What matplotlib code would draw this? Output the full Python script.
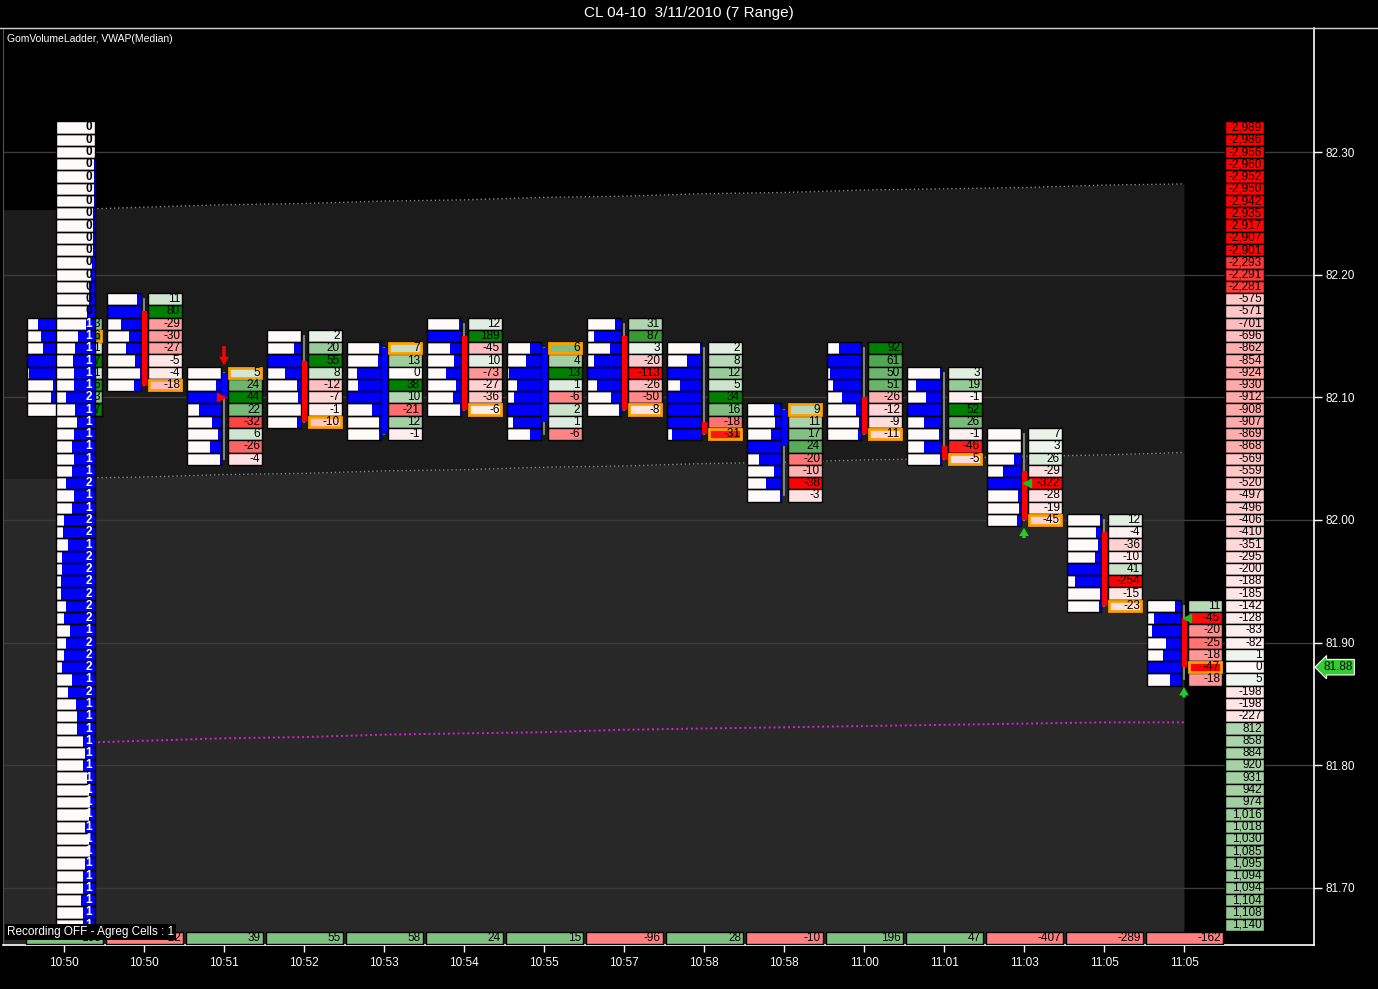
import numpy as np
import matplotlib.pyplot as plt
from matplotlib.patches import Rectangle
from matplotlib.lines import Line2D

plt.rcParams['font.family'] = ['Liberation Sans', 'DejaVu Sans']

# ---- data ----
times = ['10:50', '10:50', '10:51', '10:52', '10:53', '10:54', '10:55', '10:57',
         '10:58', '10:58', '11:00', '11:01', '11:03', '11:05', '11:05']

# top price of each bar's ladder, rows go down one tick (0.01) each
bar_top = [82.16, 82.18, 82.12, 82.15, 82.14, 82.16, 82.14, 82.16,
           82.14, 82.09, 82.14, 82.12, 82.07, 82.00, 81.93]

# first bar: only the last digit shows beside the session column
deltas = [
    [3, 6, 1, 7, 1, 6, 3, 7],
    [11, 80, -29, -30, -27, -5, -4, -18],
    [5, 24, 44, 22, -32, 6, -26, -4],
    [2, 20, 55, 8, -12, -7, -1, -10],
    [7, 13, 0, 38, 10, -21, 12, -1],
    [12, 189, -45, 10, -73, -27, -36, -6],
    [6, 4, 13, 1, -6, 2, 1, -6],
    [31, 87, 3, -20, -113, -26, -50, -8],
    [2, 8, 12, 5, 34, 16, -18, -31],
    [9, 11, 17, 24, -20, -10, -38, -3],
    [92, 61, 50, 51, -26, -12, -9, -11],
    [3, 19, -1, 52, 26, -1, -46, -5],
    [7, 3, 26, -29, -322, -28, -19, -45],
    [12, -4, -36, -10, 41, -254, -15, -23],
    [11, -45, -20, -25, -18, -47, -18],
]

# bar delta totals shown along the bottom
bar_totals = [163, -22, 39, 55, 58, 24, 15, -96, 28, -10, 196, 47, -407, -289, -162]

# share of the row volume (blue part of the ladder cell)
vol_share = [
    [0.69, 0.59, 0.54, 1.0, 0.93, 0.24, 0.30, 0.10],
    [0.12, 0.98, 0.58, 0.34, 0.44, 0.17, 0.03, 0.20],
    [0.0, 0.15, 1.0, 0.64, 0.26, 0.10, 0.32, 0.02],
    [0.0, 0.22, 1.0, 0.47, 0.12, 0.10, 0.0, 0.12],
    [0.05, 0.08, 0.71, 0.68, 1.0, 0.27, 0.06, 0.06],
    [0.06, 0.98, 0.32, 0.20, 0.44, 0.15, 0.24, 0.03],
    [0.32, 0.44, 0.95, 0.71, 0.79, 1.0, 0.83, 0.32],
    [0.17, 0.80, 0.33, 0.80, 1.0, 0.70, 0.30, 0.05],
    [0.03, 0.42, 1.0, 0.63, 1.0, 1.0, 1.0, 0.85],
    [0.20, 0.17, 0.29, 1.0, 0.66, 0.20, 0.44, 0.03],
    [0.64, 1.0, 0.90, 0.83, 0.56, 0.15, 0.07, 0.08],
    [0.03, 0.73, 0.44, 1.0, 0.49, 0.05, 0.49, 0.03],
    [0.0, 0.0, 0.20, 0.52, 1.0, 0.10, 0.05, 0.12],
    [0.03, 0.15, 0.08, 0.17, 1.0, 0.76, 0.03, 0.06],
    [0.17, 0.79, 0.85, 0.44, 0.54, 1.0, 0.32],
]

opens = [82.10, 82.17, 82.10, 82.13, 82.07, 82.15, 82.08, 82.15,
         82.08, 82.06, 82.10, 82.06, 82.04, 81.99, 81.92]
highs = [82.16, 82.18, 82.12, 82.15, 82.14, 82.16, 82.14, 82.16,
         82.14, 82.09, 82.14, 82.12, 82.07, 82.00, 81.93]
lows = [82.09, 82.11, 82.05, 82.08, 82.07, 82.09, 82.07, 82.09,
        82.07, 82.02, 82.07, 82.05, 82.00, 81.93, 81.87]
closes = [82.15, 82.11, 82.12, 82.08, 82.14, 82.09, 82.14, 82.09,
          82.07, 82.09, 82.07, 82.05, 82.00, 81.93, 81.88]

# session volume column (left) and session delta column (right), from 82.32 down
profile_top = 82.32
profile_vol_text = [0] * 16 + [1, 1, 1, 1, 1, 1, 2, 1,
                               1, 1, 1, 1, 1, 2, 1, 1, 2, 2, 1, 2, 2, 2, 2, 2, 2, 1,
                               2, 2, 2, 1, 2, 1, 1, 1] + [1] * 16
profile_vol_share = [0.0, 0.0, 0.0, 0.03, 0.03, 0.03, 0.03, 0.05, 0.05, 0.05, 0.05,
                     0.07, 0.10, 0.15, 0.15, 0.20,
                     0.23, 0.43, 0.51, 0.57, 0.55, 0.54, 0.74, 0.51,
                     0.45, 0.55, 0.60, 0.55, 0.60, 0.75, 0.55, 0.60, 0.80, 0.82,
                     0.70, 0.85, 0.85, 0.88, 0.88, 0.75, 0.80, 0.65, 0.75, 0.80,
                     0.85, 0.60, 0.70, 0.50, 0.45, 0.45,
                     0.30, 0.25, 0.30, 0.20, 0.15, 0.12, 0.15, 0.25, 0.15, 0.12,
                     0.25, 0.30, 0.30, 0.35, 0.30, 0.30]
profile_delta = [-2989, -2986, -2956, -2960, -2952, -2950, -2942, -2935, -2917,
                 -2907, -2901, -2293, -2291, -2281, -575, -571, -701, -696, -862,
                 -854, -924, -930, -912, -908, -907, -869, -868, -569, -559, -520,
                 -497, -496, -406, -410, -351, -295, -200, -188, -185, -142, -128,
                 -83, -82, 1, 0, 5, -198, -198, -227, 812, 858, 884, 920, 931, 942,
                 974, 1016, 1018, 1030, 1085, 1095, 1094, 1094, 1104, 1108, 1140]

# VWAP and bands at each bar
vwap = [81.818, 81.820, 81.822, 81.823, 81.825, 81.826, 81.827, 81.829,
        81.830, 81.831, 81.832, 81.833, 81.834, 81.835, 81.835]
band_upper = [82.253, 82.255, 82.257, 82.258, 82.260, 82.261, 82.263, 82.264,
              82.266, 82.267, 82.269, 82.270, 82.271, 82.273, 82.274]
band_mid = [82.034, 82.035, 82.037, 82.038, 82.040, 82.041, 82.043, 82.044,
            82.046, 82.047, 82.049, 82.050, 82.052, 82.053, 82.055]

last_price = 81.88


def delta_color(v, vmax):
    t = min(abs(v) / vmax, 1.0)
    if v > 0:
        return (0.94 * (1 - t), 0.96 - 0.46 * t, 0.94 * (1 - t))
    if v < 0:
        return (1.0, 0.96 * (1 - t), 0.96 * (1 - t))
    return (1.0, 0.98, 0.98)


def ladder_cell(ax, x0, p, w, share, z):
    y0 = p - TICK / 2
    ax.add_patch(Rectangle((x0, y0), w, TICK, fc=WHITE, ec='none', zorder=z))
    if share > 0:
        ax.add_patch(Rectangle((x0 + w * (1 - share), y0), w * share, TICK,
                               fc='#0000ff', ec='none', zorder=z + 0.05))
    ax.add_patch(Rectangle((x0, y0), w, TICK, fc='none', ec='black', lw=1, zorder=z + 0.1))


PX = 1 / 80.0        # one pixel in x data units
TICK = 0.01
WHITE = '#fffafa'

fig = plt.figure(figsize=(13.78, 9.89), dpi=100, facecolor='black')
ax = fig.add_axes([3 / 1378, 1 - 945 / 989, 1311 / 1378, 917 / 989])
ax.set_facecolor('black')
ax.set_xlim(-0.7625, 15.625)
ax.set_ylim(81.6535, 82.4011)

# background bands
xs = [-0.7625] + list(range(15))
up = [band_upper[0]] + band_upper
mid = [band_mid[0]] + band_mid
ax.fill_between(xs, mid, up, color='#1b1b1b', lw=0, zorder=0)
ax.fill_between(xs, [81.6535] * len(xs), mid, color='#282828', lw=0, zorder=0)

for p in np.arange(81.70, 82.31, 0.10):
    ax.axhline(p, color='#3c3c3c', lw=1, zorder=1)

ax.plot(range(15), band_upper, color='#8a8a8a', lw=1, ls=(0, (1, 2)), zorder=1.5)
ax.plot(range(15), band_mid, color='#8a8a8a', lw=1, ls=(0, (1, 2)), zorder=1.5)
ax.plot(range(15), vwap, color='#d81ed8', lw=1.4, ls=(0, (1, 1.5)), zorder=1.5)

# bars
for i in range(15):
    c = i
    d = deltas[i]
    vmax = max(abs(v) for v in d)
    w = 34 * PX
    for k, v in enumerate(d):
        p = bar_top[i] - k * TICK
        y0 = p - TICK / 2
        ladder_cell(ax, c - 37 * PX, p, w, vol_share[i][k], 3)
        dx0 = c + 4 * PX
        ax.add_patch(Rectangle((dx0, y0), w, TICK, fc=delta_color(v, vmax),
                               ec='black', lw=1, zorder=3))
        if abs(p - closes[i]) < 1e-6:
            ax.add_patch(Rectangle((dx0 + PX, y0 + 0.0008), w - 2 * PX, TICK - 0.0016,
                                   fc='none', ec='#ffa000', lw=2, zorder=3.3))
        ax.text(dx0 + w - 2 * PX, p, str(v), ha='right', va='center', fontsize=8.5,
                color='black', zorder=3.4)
    # candle
    ax.plot([c, c], [lows[i], highs[i]], color='#8c8c8c', lw=1.3, zorder=3.5)
    col = '#0000ff' if closes[i] > opens[i] else '#ff0000'
    lo, hi = sorted([opens[i], closes[i]])
    ax.add_patch(Rectangle((c - 2.5 * PX, lo), 5 * PX, hi - lo, fc=col, ec='none', zorder=3.6))
    # bar total delta at the bottom
    tot = bar_totals[i]
    ax.add_patch(Rectangle((c - 38 * PX, 81.6544), 77 * PX, 0.0096,
                           fc='#80c080' if tot >= 0 else '#ff8080', ec='black', lw=1, zorder=4))
    ax.text(c + 37 * PX, 81.6592, str(tot), ha='right', va='center', fontsize=8.5,
            color='black', zorder=4.1)

# session volume column over the first bar
for k, (t, s) in enumerate(zip(profile_vol_text, profile_vol_share)):
    p = profile_top - k * TICK
    x0 = -8 * PX
    w = 39 * PX
    ladder_cell(ax, x0, p, w, s, 5)
    ax.text(x0 + w - 3 * PX, p, str(t), ha='right', va='center', fontsize=8.5,
            color='black' if t == 0 else 'white', fontweight='bold', zorder=5.2)

# session delta column on the right
pmax = max(abs(v) for v in profile_delta)
for k, v in enumerate(profile_delta):
    p = profile_top - k * TICK
    x0 = 14 + 41 * PX
    w = 39 * PX
    ax.add_patch(Rectangle((x0, p - TICK / 2), w, TICK, fc=delta_color(v, pmax),
                           ec='black', lw=1, zorder=3))
    ax.text(x0 + w - 2 * PX, p, f'{v:,}', ha='right', va='center', fontsize=8.5,
            color='black', zorder=3.4)

# signal markers
arrow = 'simple,head_width=0.7,head_length=0.6,tail_width=0.25'
ax.annotate('', xy=(2, 82.124), xytext=(2, 82.144),
            arrowprops=dict(arrowstyle=arrow, color='#ff0000', lw=0), zorder=6)
ax.plot(2 - 3 * PX, 82.10, marker='>', color='#ff0000', ms=6, zorder=6)
ax.plot(12 + 3 * PX, 82.03, marker='<', color='#22bb22', ms=6, zorder=6)
ax.plot(14 + 3 * PX, 81.92, marker='<', color='#22bb22', ms=6, zorder=6)
for xa, ya in [(12, 81.983), (14, 81.853)]:
    ax.annotate('', xy=(xa, ya + 0.013), xytext=(xa, ya),
                arrowprops=dict(arrowstyle=arrow, color='#22cc22', lw=0), zorder=6)

# axes styling
ax.yaxis.tick_right()
ax.set_yticks(np.round(np.arange(81.70, 82.31, 0.10), 2))
ax.set_yticklabels([f'{v:.2f}' for v in np.arange(81.70, 82.31, 0.10)])
ax.set_xticks(range(15))
ax.set_xticklabels(times)
ax.tick_params(axis='y', colors='white', length=6, width=1, labelsize=8.5, pad=2)
ax.tick_params(axis='x', colors='white', length=5, width=1, labelsize=8.5, pad=4)
for side in ['right', 'bottom']:
    ax.spines[side].set_color('white')
    ax.spines[side].set_linewidth(1.2)
ax.spines['top'].set_visible(False)
ax.spines['left'].set_color('#505050')

ax.text(15.74, last_price, f'{last_price:.2f}', ha='left', va='center', fontsize=8.5,
        color='black', clip_on=False, zorder=7,
        bbox=dict(boxstyle='larrow,pad=0.15', fc='#33cc33', ec='white', lw=0.8))

fig.text(0.5, 1 - 13 / 989, 'CL 04-10  3/11/2010 (7 Range)', ha='center', va='center',
         color='white', fontsize=11)
fig.add_artist(Line2D([0, 1], [1 - 27.5 / 989] * 2, color='#d0d0d0', lw=1,
                      transform=fig.transFigure))
fig.text(7 / 1378, 1 - 39 / 989, 'GomVolumeLadder, VWAP(Median)', ha='left', va='center',
         color='white', fontsize=7.5)
fig.text(7 / 1378, 1 - 932 / 989, 'Recording OFF - Agreg Cells : 1', ha='left', va='center',
         color='white', fontsize=8.5, zorder=10,
         bbox=dict(boxstyle='square,pad=0.15', fc='black', ec='none'))

fig.savefig('out.png', dpi=100, facecolor='black')
